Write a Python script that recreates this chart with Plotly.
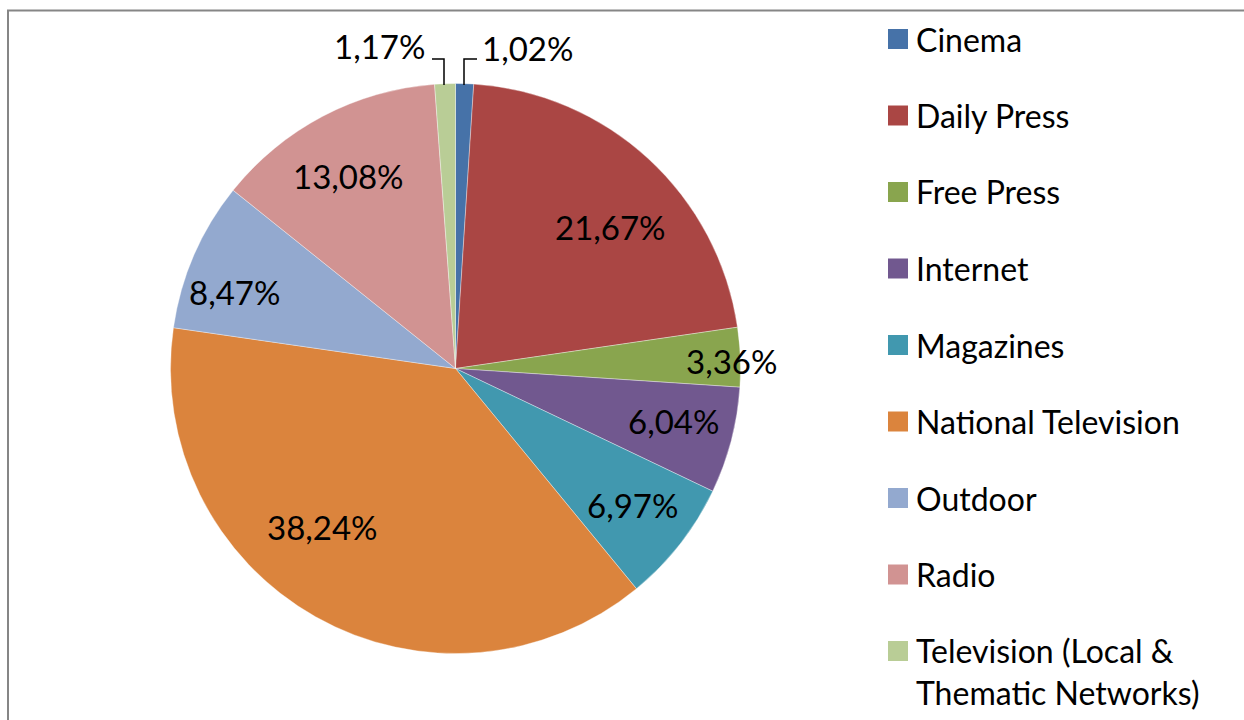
import plotly.graph_objects as go

categories = ["Cinema", "Daily Press", "Free Press", "Internet", "Magazines",
              "National Television", "Outdoor", "Radio",
              "Television (Local & Thematic Networks)"]
shares = [1.02, 21.67, 3.36, 6.04, 6.97, 38.24, 8.47, 13.08, 1.17]
colors = ["#4672A8", "#AA4644", "#89A54E", "#71588F", "#4198AF",
          "#DB843D", "#93A9CF", "#D19392", "#B9CD96"]

# label centre positions in pixels (layout only)
label_pos = [(527, 48), (610, 227), (731, 361), (673, 421), (632, 505),
             (322, 527), (234, 292), (349, 176), (379, 46)]

W, H = 1244, 720
OFF = 0  # body margin removed via post_script
FONT = "Lato, Calibri, Carlito, sans-serif"
FS_LABEL = 33
FS_LEG = 32


def px(x):
    return (x - OFF) / W


def py(y):
    return 1 - (y - OFF) / H


cx, cy, R = 455.5, 368.5, 285

fig = go.Figure(go.Pie(
    labels=categories,
    values=shares,
    sort=False,
    direction="clockwise",
    rotation=0,
    marker=dict(colors=colors, line=dict(color="rgba(255,255,255,0.45)", width=0.8)),
    textinfo="none",
    hoverinfo="label+percent",
    showlegend=False,
    domain=dict(x=[px(cx - R), px(cx + R)], y=[py(cy + R), py(cy - R)]),
))

annotations = []
for val, (lx, ly) in zip(shares, label_pos):
    annotations.append(dict(
        x=px(lx), y=py(ly), xref="paper", yref="paper",
        text=f"{val:.2f}%".replace(".", ","), showarrow=False,
        xanchor="center", yanchor="middle",
        font=dict(family=FONT, size=FS_LABEL, color="black"),
    ))

shapes = []
# leader lines for the two small slices
shapes.append(dict(type="path", xref="paper", yref="paper",
                   path=f"M {px(477)} {py(59)} L {px(464)} {py(59)} L {px(464)} {py(85)}",
                   line=dict(color="black", width=1.5)))
shapes.append(dict(type="path", xref="paper", yref="paper",
                   path=f"M {px(432)} {py(59)} L {px(444)} {py(59)} L {px(444)} {py(85)}",
                   line=dict(color="black", width=1.5)))

# manual legend
step = 76.5
for i, (name, col) in enumerate(zip(categories, colors)):
    yc = 39 + i * step
    shapes.append(dict(type="rect", xref="paper", yref="paper",
                       x0=px(888), x1=px(908), y0=py(yc + 10), y1=py(yc - 10),
                       fillcolor=col, line=dict(width=0)))
    text = name.replace("& ", "&<br>")
    if "<br>" in text:
        annotations.append(dict(
            x=px(914), y=py(yc - 22), xref="paper", yref="paper",
            text=text, showarrow=False, xanchor="left", yanchor="top", align="left",
            font=dict(family=FONT, size=FS_LEG, color="black"),
        ))
    else:
        annotations.append(dict(
            x=px(914), y=py(yc), xref="paper", yref="paper",
            text=text, showarrow=False, xanchor="left", yanchor="middle",
            font=dict(family=FONT, size=FS_LEG, color="black"),
        ))

# chart border
shapes.append(dict(type="rect", xref="paper", yref="paper",
                   x0=px(8), x1=px(W + 20), y0=py(H + 20), y1=py(10.5),
                   line=dict(color="#868686", width=2), fillcolor="rgba(0,0,0,0)"))

fig.update_layout(
    width=W, height=H,
    margin=dict(l=0, r=0, t=0, b=0),
    paper_bgcolor="white",
    plot_bgcolor="white",
    annotations=annotations,
    shapes=shapes,
)

fig.write_html(
    "out.html",
    config={"displayModeBar": False},
    post_script="document.body.style.margin='0px';document.body.style.overflow='hidden';",
)
